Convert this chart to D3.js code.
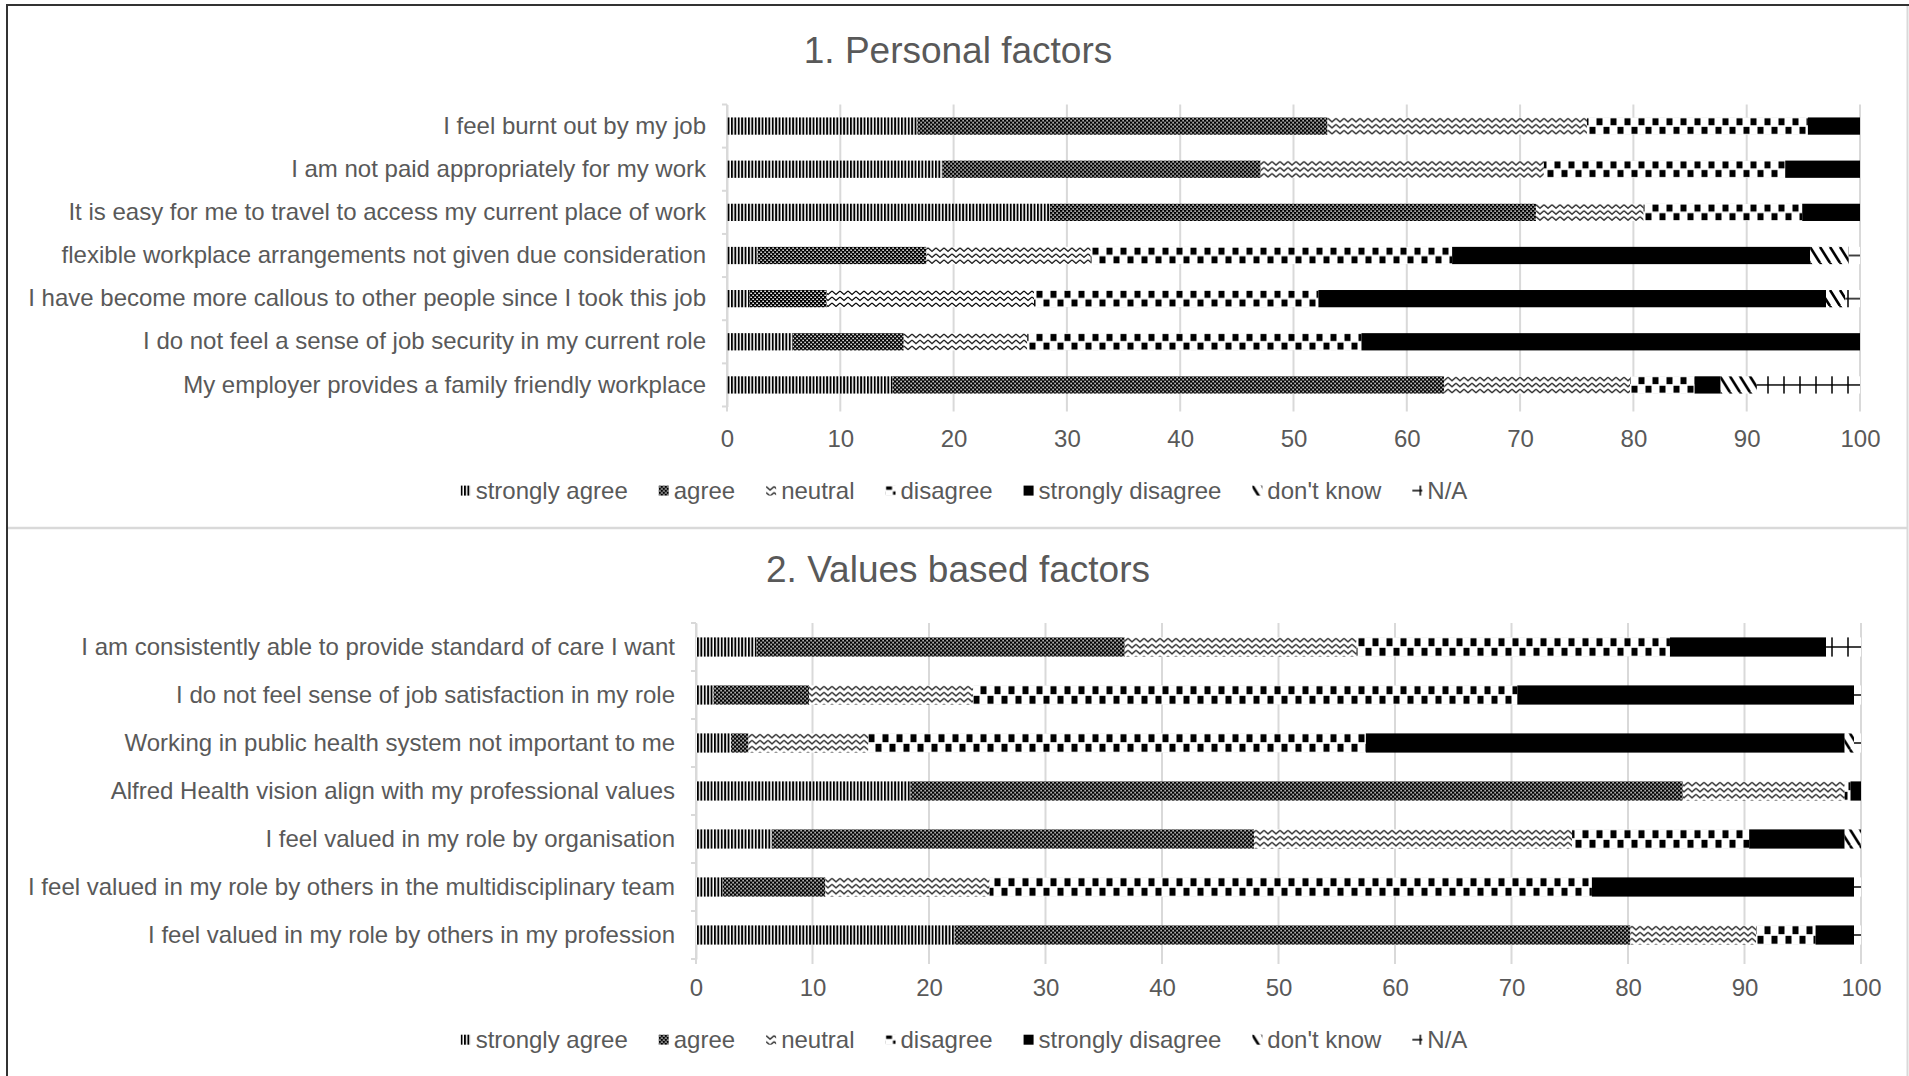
<!DOCTYPE html>
<html><head><meta charset="utf-8">
<script src="https://cdn.jsdelivr.net/npm/d3@7"></script>
<style>
body{margin:0;background:#fff}
svg{display:block}
text{font-family:"Liberation Sans",Arial,sans-serif;fill:#595959}
</style>
</head><body>
<svg id="c" width="1909" height="1076"></svg>
<script>
// ---------- DATA ----------
const seriesNames = ["strongly agree","agree","neutral","disagree","strongly disagree","don't know","N/A"];
const tickValues = [0,10,20,30,40,50,60,70,80,90,100];

const personalTitle = "1. Personal factors";
const personalCategories = [
  "I feel burnt out by my job",
  "I am not paid appropriately for my work",
  "It is easy for me to travel to access my current place of work",
  "flexible workplace arrangements not given due consideration",
  "I have become more callous to other people since I took this job",
  "I do not feel a sense of job security in my current role",
  "My employer provides a family friendly workplace"
];
const personalStronglyAgree    = [16.8, 19.0, 28.5,  2.7,  2.0,  5.8, 14.6];
const personalAgree            = [36.2, 28.1, 42.9, 14.9,  6.8,  9.8, 48.7];
const personalNeutral          = [22.9, 25.0,  9.5, 14.5, 18.3, 10.9, 16.4];
const personalDisagree         = [19.5, 21.3, 14.0, 31.9, 25.1, 29.5,  5.7];
const personalStronglyDisagree = [ 4.6,  6.6,  5.1, 31.6, 44.8, 44.0,  2.3];
const personalDontKnow         = [ 0,    0,    0,    3.4,  1.7,  0,    3.2];
const personalNA               = [ 0,    0,    0,    1.0,  1.3,  0,    9.1];

const valuesTitle = "2. Values based factors";
const valuesCategories = [
  "I am consistently able to provide standard of care I want",
  "I do not feel sense of job satisfaction in my role",
  "Working in public health system not important to me",
  "Alfred Health vision align with my professional values",
  "I feel valued in my role by organisation",
  "I feel valued in my role by others in the multidisciplinary team",
  "I feel valued in my role by others in my profession"
];
const valuesStronglyAgree    = [ 5.2,  1.5,  3.0, 18.4,  6.5,  2.3, 22.2];
const valuesAgree            = [31.6,  8.2,  1.5, 66.3, 41.4,  8.8, 58.0];
const valuesNeutral          = [19.9, 14.1, 10.3, 13.9, 27.3, 14.1, 10.8];
const valuesDisagree         = [26.9, 46.7, 42.7,  0.5, 15.2, 51.7,  5.1];
const valuesStronglyDisagree = [13.4, 28.9, 41.1,  0.9,  8.2, 22.5,  3.3];
const valuesDontKnow         = [ 0,    0,    0.8,  0,    1.4,  0,    0  ];
const valuesNA               = [ 3.0,  0.6,  0.6,  0,    0,    0.6,  0.6];

// ---------- DRAWING ----------
const svg = d3.select("#c");
const defs = svg.append("defs");

function makePatterns(suffix, h) {
  const P = (i, w, ph) => defs.append("pattern").attr("id", "p" + i + suffix)
      .attr("patternUnits", "userSpaceOnUse").attr("width", w).attr("height", ph);
  // 0 strongly agree: narrow vertical stripes
  let p = P(0, 3.4, h);
  p.append("rect").attr("width", 3.4).attr("height", h).attr("fill", "#fff");
  p.append("rect").attr("width", 1.9).attr("height", h).attr("fill", "#000");
  // 1 agree: dark with white dots
  p = P(1, 4, 4);
  p.append("rect").attr("width", 4).attr("height", 4).attr("fill", "#000");
  p.append("rect").attr("x", 0.3).attr("y", 0.6).attr("width", 1.6).attr("height", 1.4).attr("fill", "#fff");
  p.append("rect").attr("x", 2.3).attr("y", 2.6).attr("width", 1.6).attr("height", 1.4).attr("fill", "#fff");
  // 2 neutral: wave
  p = P(2, 8, 6);
  p.append("rect").attr("width", 8).attr("height", 6).attr("fill", "#fff");
  p.append("path").attr("d", "M0,1 L4,4.5 L8,1").attr("fill", "none").attr("stroke", "#000").attr("stroke-width", 1.1);
  // 3 disagree: large checkerboard
  const ch = h / 2;
  p = P(3, 14, h);
  p.append("rect").attr("width", 14).attr("height", h).attr("fill", "#fff");
  p.append("rect").attr("x", 0.5).attr("y", 0.8).attr("width", 6).attr("height", ch - 1.6).attr("fill", "#000");
  p.append("rect").attr("x", 7.5).attr("y", ch + 0.8).attr("width", 6).attr("height", ch - 1.6).attr("fill", "#000");
  // 4 strongly disagree: solid
  p = P(4, 4, 4);
  p.append("rect").attr("width", 4).attr("height", 4).attr("fill", "#000");
  // 5 don't know: wide downward diagonal
  p = P(5, 10, 16);
  p.append("rect").attr("width", 10).attr("height", 16).attr("fill", "#fff");
  p.append("path").attr("d", "M0,0 L10,16 M-10,0 L0,16 M10,0 L20,16")
    .attr("stroke", "#000").attr("stroke-width", 2.6);
  // 6 N/A: cross
  p = P(6, 16, h);
  p.append("rect").attr("width", 16).attr("height", h).attr("fill", "#fff");
  p.append("path").attr("d", `M0,${h/2} L16,${h/2} M8,0 L8,${h}`)
    .attr("stroke", "#000").attr("stroke-width", 1.5);
}

function drawChart(cfg, title, cats, seriesArrays) {
  const suffix = cfg.id;
  const g = svg.append("g");
  const data = cats.map((c, i) => {
    const o = {cat: c};
    seriesNames.forEach((k, j) => o[k] = seriesArrays[j][i]);
    return o;
  });
  const stacked = d3.stack().keys(seriesNames)(data);
  const x = d3.scaleLinear().domain([0, 100]).range([cfg.left, cfg.right]);
  const y = d3.scaleBand().domain(cats).range([cfg.top, cfg.bottom]).paddingInner(0.6).paddingOuter(0.3);
  const bw = y.bandwidth();
  makePatterns(suffix, bw);

  // title
  g.append("text").attr("x", cfg.titleX).attr("y", cfg.titleY).attr("text-anchor", "middle")
    .style("font-size", "37px").text(title);

  // gridlines
  g.append("g").selectAll("line").data(tickValues).join("line")
    .attr("x1", d => x(d)).attr("x2", d => x(d))
    .attr("y1", cfg.top).attr("y2", cfg.bottom + 5)
    .attr("stroke", "#d9d9d9").attr("stroke-width", 2);

  // x tick labels via axis
  const xa = g.append("g").attr("transform", `translate(0,${cfg.bottom + 5})`)
    .call(d3.axisBottom(x).tickValues(tickValues).tickSize(0).tickPadding(cfg.tickPad));
  xa.select(".domain").remove();
  xa.selectAll("text").style("font-size", "24px").attr("fill", "#595959");
  xa.attr("font-family", null).attr("font-size", null);

  // y axis with labels
  const ya = g.append("g").attr("transform", `translate(${x(0)},0)`)
    .call(d3.axisLeft(y).tickSize(0).tickPadding(cfg.labelGap));
  ya.select(".domain").attr("stroke", "#d9d9d9").attr("stroke-width", 2);
  ya.selectAll("text").style("font-size", "24px").attr("fill", "#595959");
  ya.attr("font-family", null).attr("font-size", null);
  // category boundary ticks
  const step = y.step();
  const bounds = d3.range(cats.length + 1).map(i => cfg.top + i * step);
  g.append("g").selectAll("line").data(bounds).join("line")
    .attr("x1", x(0) - 5).attr("x2", x(0)).attr("y1", d => d).attr("y2", d => d)
    .attr("stroke", "#d9d9d9").attr("stroke-width", 2);

  // bars
  const rows = g.append("g").selectAll("g").data(data).join("g")
    .attr("transform", d => `translate(0,${y(d.cat)})`);
  rows.each(function(d, ri) {
    const rg = d3.select(this);
    stacked.forEach((layer, li) => {
      const s = layer[ri];
      if (s[1] - s[0] <= 0) return;
      rg.append("rect").attr("x", x(s[0])).attr("y", 0)
        .attr("width", x(s[1]) - x(s[0])).attr("height", bw)
        .attr("fill", `url(#p${li}${suffix})`);
    });
  });

  // legend
  const lg = g.append("g");
  let cx = 0;
  seriesNames.forEach((name, i) => {
    const ig = lg.append("g").attr("transform", `translate(${cx},0)`);
    ig.append("g").attr("transform", `translate(0,${cfg.legendY - 5})`)
      .append("rect").attr("width", 10).attr("height", 10).attr("fill", `url(#p${i}L)`);
    const t = ig.append("text").attr("x", 15).attr("y", cfg.legendY + 8.6)
      .style("font-size", "24px").text(name);
    const w = t.node().getComputedTextLength();
    cx += 15 + w + 31;
  });
  const total = cx - 31;
  lg.attr("transform", `translate(${cfg.legendCX - total / 2},0)`);
}

makePatterns("L", 10);

// frame
svg.append("line").attr("x1", 1907.5).attr("x2", 1907.5).attr("y1", 5).attr("y2", 1076).attr("stroke", "#d9d9d9").attr("stroke-width", 2);
svg.append("line").attr("x1", 8).attr("x2", 1907).attr("y1", 528).attr("y2", 528).attr("stroke", "#d9d9d9").attr("stroke-width", 2.5);
svg.append("line").attr("x1", 6).attr("x2", 1909).attr("y1", 5).attr("y2", 5).attr("stroke", "#333").attr("stroke-width", 2);
svg.append("line").attr("x1", 7).attr("x2", 7).attr("y1", 4).attr("y2", 1076).attr("stroke", "#333").attr("stroke-width", 2);

drawChart({id: "A", left: 727, right: 1860, top: 104.5, bottom: 406.5, titleX: 958, titleY: 63,
           tickPad: 18, labelGap: 21, legendY: 490.6, legendCX: 964},
  personalTitle, personalCategories,
  [personalStronglyAgree, personalAgree, personalNeutral, personalDisagree, personalStronglyDisagree, personalDontKnow, personalNA]);

drawChart({id: "B", left: 696, right: 1861, top: 623, bottom: 959, titleX: 958, titleY: 582,
           tickPad: 15, labelGap: 21, legendY: 1039.7, legendCX: 964},
  valuesTitle, valuesCategories,
  [valuesStronglyAgree, valuesAgree, valuesNeutral, valuesDisagree, valuesStronglyDisagree, valuesDontKnow, valuesNA]);
</script>
</body></html>
